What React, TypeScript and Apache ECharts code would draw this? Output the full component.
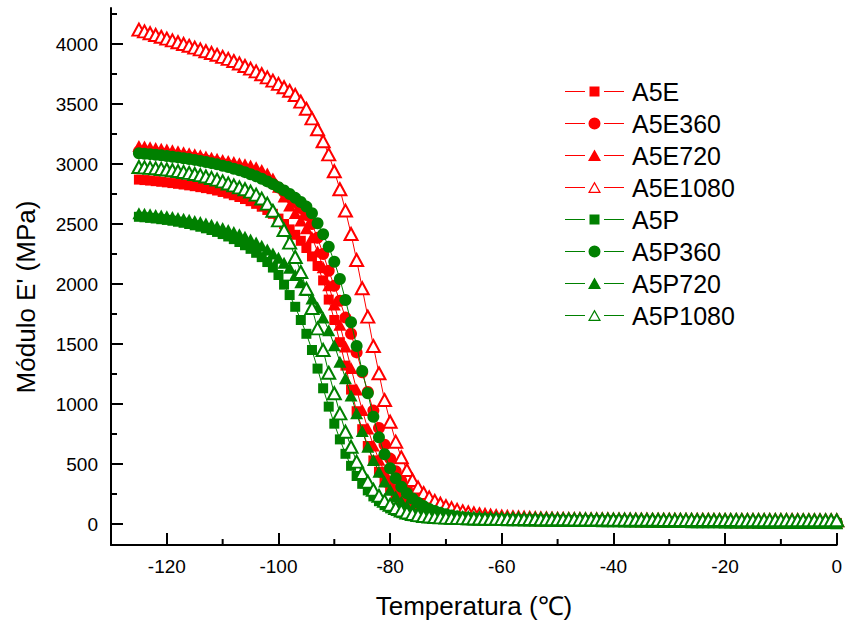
import { useEffect, useRef } from "react";
import * as echarts from "echarts";

// Temperature (°C) of each measured point
const TEMPS = [
  -125, -124, -123, -122, -121, -120, -119, -118, -117, -116, -115, -114, -113, -112, -111, -110, -109, -108, -107, -106, -105, -104, -103, -102, -101,
  -100, -99, -98, -97, -96, -95, -94, -93, -92, -91, -90, -89, -88, -87, -86, -85, -84, -83, -82, -81, -80, -79, -78, -77, -76,
  -75, -74, -73, -72, -71, -70, -69, -68, -67, -66, -65, -64, -63, -62, -61, -60, -59, -58, -57, -56, -55, -54, -53, -52, -51,
  -50, -49, -48, -47, -46, -45, -44, -43, -42, -41, -40, -39, -38, -37, -36, -35, -34, -33, -32, -31, -30, -29, -28, -27, -26,
  -25, -24, -23, -22, -21, -20, -19, -18, -17, -16, -15, -14, -13, -12, -11, -10, -9, -8, -7, -6, -5, -4, -3, -2, -1, 0,
];

// Storage modulus E' (MPa) per series
const A5E = [
  2870, 2866, 2862, 2857, 2852, 2847, 2841, 2835, 2829, 2822, 2815, 2807, 2799, 2790, 2779, 2767, 2754, 2740, 2725, 2708, 2690, 2668, 2644, 2617, 2585,
  2545, 2500, 2455, 2410, 2360, 2300, 2230, 2150, 2030, 1870, 1700, 1515, 1320, 1120, 940, 790, 650, 530, 435, 355, 288, 235, 192, 158, 131,
  110, 94, 82, 72, 64, 58, 53, 49, 46, 44, 42, 40, 39, 38, 37, 36, 35, 34, 33, 33, 32, 31, 31, 30, 30,
  29, 29, 28, 28, 27, 27, 26, 26, 25, 25, 24, 24, 23, 23, 22, 22, 21, 21, 20, 20, 19, 19, 18, 18, 17,
  17, 16, 16, 15, 15, 15, 14, 14, 14, 13, 13, 13, 12, 12, 12, 11, 11, 11, 11, 10, 10, 10, 10, 9, 9, 9,
];
const A5E360 = [
  3105, 3101, 3097, 3092, 3087, 3082, 3076, 3070, 3063, 3056, 3048, 3040, 3031, 3021, 3011, 3000, 2988, 2975, 2961, 2946, 2929, 2910, 2888, 2863, 2835,
  2803, 2767, 2727, 2682, 2632, 2575, 2500, 2385, 2250, 2110, 1985, 1860, 1720, 1585, 1430, 1265, 1100, 945, 800, 660, 545, 440, 360, 295, 243,
  200, 167, 140, 118, 101, 87, 76, 67, 60, 55, 51, 48, 45, 43, 41, 40, 39, 38, 37, 36, 35, 34, 33, 33, 32,
  31, 31, 30, 30, 29, 29, 28, 27, 27, 26, 26, 25, 25, 24, 24, 23, 23, 22, 22, 21, 21, 20, 20, 19, 19,
  19, 18, 18, 17, 17, 17, 16, 16, 16, 15, 15, 15, 14, 14, 14, 13, 13, 13, 13, 12, 12, 12, 12, 11, 11, 11,
];
const A5E720 = [
  3150, 3145, 3140, 3134, 3128, 3121, 3114, 3106, 3098, 3090, 3081, 3072, 3062, 3052, 3043, 3034, 3025, 3016, 3007, 2998, 2988, 2972, 2950, 2920, 2880,
  2810, 2730, 2655, 2592, 2530, 2465, 2390, 2270, 2140, 1990, 1830, 1660, 1480, 1300, 1120, 950, 795, 655, 535, 435, 355, 290, 238, 196, 162,
  135, 113, 96, 83, 72, 64, 58, 53, 49, 46, 44, 42, 40, 39, 38, 37, 36, 35, 34, 34, 33, 32, 32, 31, 31,
  30, 30, 29, 29, 28, 28, 27, 27, 26, 26, 25, 25, 24, 24, 23, 23, 22, 22, 21, 21, 20, 20, 19, 19, 18,
  18, 17, 17, 17, 16, 16, 16, 15, 15, 15, 14, 14, 14, 13, 13, 13, 12, 12, 12, 12, 11, 11, 11, 11, 10, 10,
];
const A5E1080 = [
  4120, 4105, 4090, 4075, 4060, 4045, 4030, 4015, 4000, 3985, 3970, 3955, 3940, 3925, 3910, 3893, 3876, 3858, 3838, 3817, 3795, 3772, 3748, 3722, 3695,
  3668, 3640, 3610, 3575, 3520, 3460, 3380, 3290, 3190, 3080, 2940, 2790, 2612, 2417, 2200, 1965, 1728, 1483, 1256, 1033, 852, 686, 556, 450, 367,
  305, 258, 222, 193, 169, 149, 132, 118, 106, 96, 88, 81, 75, 70, 66, 62, 59, 56, 54, 52, 50, 48, 47, 46, 45,
  43, 42, 41, 40, 40, 39, 39, 38, 38, 38, 37, 37, 37, 36, 36, 36, 36, 35, 35, 35, 35, 35, 34, 34, 34,
  34, 34, 34, 33, 33, 33, 33, 33, 33, 33, 32, 32, 32, 32, 32, 32, 32, 32, 32, 31, 31, 31, 31, 31, 31, 31,
];
const A5P = [
  2560, 2556, 2551, 2546, 2540, 2534, 2527, 2519, 2510, 2500, 2489, 2477, 2464, 2450, 2434, 2416, 2396, 2374, 2350, 2323, 2293, 2260, 2224, 2183, 2137,
  2075, 1995, 1908, 1810, 1700, 1585, 1450, 1295, 1131, 978, 836, 705, 585, 485, 400, 335, 280, 230, 190, 157, 130, 108, 90, 76, 65,
  57, 51, 47, 44, 42, 40, 39, 38, 37, 36, 35, 34, 33, 32, 32, 31, 30, 30, 29, 29, 28, 28, 27, 27, 26,
  26, 25, 25, 24, 24, 23, 23, 22, 22, 21, 21, 20, 20, 19, 19, 18, 18, 17, 17, 16, 16, 15, 15, 14, 14,
  14, 13, 13, 13, 12, 12, 12, 11, 11, 11, 10, 10, 10, 9, 9, 9, 8, 8, 8, 8, 7, 7, 7, 7, 6, 6,
];
const A5P360 = [
  3090, 3086, 3082, 3077, 3072, 3067, 3061, 3055, 3048, 3041, 3034, 3026, 3017, 3007, 2997, 2986, 2974, 2961, 2947, 2932, 2915, 2897, 2877, 2855, 2832,
  2807, 2780, 2750, 2718, 2683, 2645, 2590, 2506, 2414, 2311, 2186, 2042, 1867, 1681, 1483, 1275, 1089, 894, 722, 581, 464, 381, 311, 256, 212,
  177, 149, 126, 108, 93, 81, 71, 63, 57, 52, 48, 45, 43, 41, 39, 38, 37, 36, 35, 34, 33, 33, 32, 31, 31,
  30, 30, 29, 29, 28, 28, 27, 27, 26, 26, 25, 25, 24, 24, 23, 23, 22, 22, 21, 21, 20, 20, 19, 19, 18,
  18, 17, 17, 16, 16, 16, 15, 15, 15, 14, 14, 14, 13, 13, 13, 12, 12, 12, 12, 11, 11, 11, 10, 10, 10, 10,
];
const A5P720 = [
  2590, 2586, 2581, 2576, 2571, 2565, 2558, 2551, 2543, 2535, 2526, 2516, 2505, 2493, 2480, 2466, 2450, 2433, 2414, 2393, 2370, 2345, 2318, 2288, 2255,
  2218, 2178, 2135, 2075, 2015, 1950, 1880, 1805, 1720, 1615, 1490, 1353, 1215, 1070, 922, 775, 644, 533, 436, 355, 285, 230, 187, 152, 125,
  104, 88, 75, 65, 57, 51, 47, 44, 42, 40, 38, 37, 36, 35, 34, 33, 32, 32, 31, 30, 30, 29, 29, 28, 28,
  27, 27, 26, 26, 25, 25, 24, 24, 23, 23, 22, 22, 21, 21, 20, 20, 19, 19, 18, 18, 17, 17, 16, 16, 15,
  15, 15, 14, 14, 14, 13, 13, 13, 12, 12, 12, 11, 11, 11, 10, 10, 10, 9, 9, 9, 9, 8, 8, 8, 8, 7,
];
const A5P1080 = [
  2975, 2972, 2968, 2964, 2959, 2954, 2948, 2941, 2934, 2926, 2917, 2907, 2896, 2884, 2870, 2855, 2838, 2822, 2805, 2790, 2770, 2745, 2712, 2670, 2610,
  2530, 2450, 2345, 2225, 2100, 1960, 1800, 1630, 1450, 1260, 1090, 922, 769, 644, 520, 425, 353, 285, 235, 193, 160, 133, 112, 96, 84,
  74, 67, 62, 58, 55, 53, 51, 50, 49, 48, 47, 46, 45, 44, 44, 43, 43, 42, 42, 41, 41, 41, 40, 40, 40,
  39, 39, 39, 38, 38, 38, 37, 37, 37, 37, 36, 36, 36, 36, 35, 35, 35, 35, 35, 34, 34, 34, 34, 34, 34,
  33, 33, 33, 33, 33, 33, 33, 33, 32, 32, 32, 32, 32, 32, 32, 32, 32, 31, 31, 31, 31, 31, 31, 31, 31, 31,
];

const SERIES_NAMES = ["A5E", "A5E360", "A5E720", "A5E1080", "A5P", "A5P360", "A5P720", "A5P1080"];
const SERIES_VALUES = [A5E, A5E360, A5E720, A5E1080, A5P, A5P360, A5P720, A5P1080];

const X_MIN = -130;
const X_MAX = 0;
const Y_MIN = -175;
const Y_MAX = 4300;
const X_MAJOR = [-120, -100, -80, -60, -40, -20, 0];
const X_MINOR = [-110, -90, -70, -50, -30, -10];
const Y_MAJOR = [0, 500, 1000, 1500, 2000, 2500, 3000, 3500, 4000];
const Y_MINOR = [250, 750, 1250, 1750, 2250, 2750, 3250, 3750, 4250];

const X_TITLE = "Temperatura (\u2103)";
const Y_TITLE = "Módulo E' (MPa)";

const RED = "#ff0000";
const GREEN = "#008000";
const FONT = "'Liberation Sans', Arial, Helvetica, sans-serif";

// Legend icons: line — gap — marker — gap — line (box 59 x 12)
const ICON_LINES = "M0 0 L0 0 Z M59 12 L59 12 Z M0 5.5 L20 5.5 L20 6.5 L0 6.5 Z M39 5.5 L59 5.5 L59 6.5 L39 6.5 Z ";
const ICON_SQUARE = "path://" + ICON_LINES + "M24.5 1 L34.5 1 L34.5 11 L24.5 11 Z";
const ICON_CIRCLE = "path://" + ICON_LINES + "M35.5 6 A6 6 0 1 1 23.5 6 A6 6 0 1 1 35.5 6 Z";
const ICON_TRIANGLE = "path://" + ICON_LINES + "M29.5 0 L36 11.5 L23 11.5 Z";
const ICON_EMPTY_TRIANGLE =
  "path://" + ICON_LINES + "M29.5 0 L36 11.5 L23 11.5 Z M29.5 2.4 L25.1 10.3 L33.9 10.3 Z";

const STYLES = [
  { color: RED, symbol: "rect", size: 10, hollow: false, icon: ICON_SQUARE },
  { color: RED, symbol: "circle", size: 12, hollow: false, icon: ICON_CIRCLE },
  { color: RED, symbol: "triangle", size: [13, 12], hollow: false, icon: ICON_TRIANGLE },
  { color: RED, symbol: "emptyTriangle", size: [13, 12], hollow: true, icon: ICON_EMPTY_TRIANGLE },
  { color: GREEN, symbol: "rect", size: 10, hollow: false, icon: ICON_SQUARE },
  { color: GREEN, symbol: "circle", size: 12, hollow: false, icon: ICON_CIRCLE },
  { color: GREEN, symbol: "triangle", size: [13, 12], hollow: false, icon: ICON_TRIANGLE },
  { color: GREEN, symbol: "emptyTriangle", size: [13, 12], hollow: true, icon: ICON_EMPTY_TRIANGLE },
];

const TITLE_GRAPHICS = [
  {
    id: "xTitle",
    type: "text",
    x: 474,
    y: 606,
    silent: true,
    style: {
      text: X_TITLE,
      fontSize: 26,
      fontFamily: FONT,
      fill: "#000",
      align: "center",
      verticalAlign: "middle",
      textAlign: "center",
      textVerticalAlign: "middle",
    },
  },
  {
    id: "yTitle",
    type: "text",
    x: 26,
    y: 297,
    rotation: Math.PI / 2,
    silent: true,
    style: {
      text: Y_TITLE,
      fontSize: 26,
      fontFamily: FONT,
      fill: "#000",
      align: "center",
      verticalAlign: "middle",
      textAlign: "center",
      textVerticalAlign: "middle",
    },
  },
];

function buildOption() {
  const series = SERIES_NAMES.map((name, k) => {
    const st = STYLES[k];
    const vals = SERIES_VALUES[k];
    return {
      type: "line",
      name,
      data: TEMPS.map((t, i) => [t, vals[i]]),
      symbol: st.symbol,
      symbolSize: st.size,
      showSymbol: true,
      showAllSymbol: true,
      silent: true,
      emphasis: { disabled: true },
      lineStyle: { color: st.color, width: 1 },
      itemStyle: {
        color: st.color,
        borderColor: st.color,
        borderWidth: st.hollow ? 1 : 0,
      },
      z: 2 + k,
    };
  });

  const tickLine = { color: "#000", width: 2 };

  return {
    animation: false,
    backgroundColor: "#ffffff",
    grid: { left: 111, right: 8, top: 8, bottom: 80, containLabel: false },
    legend: {
      orient: "vertical",
      left: 560,
      top: 74,
      itemWidth: 59,
      itemHeight: 12,
      itemGap: 7,
      selectedMode: false,
      symbolKeepAspect: true,
      itemStyle: { borderWidth: 0 },
      data: SERIES_NAMES.map((name, k) => ({ name, icon: STYLES[k].icon })),
      textStyle: { fontSize: 25, lineHeight: 25, fontFamily: FONT, color: "#000", padding: [0, 0, 0, 3] },
    },
    xAxis: {
      type: "value",
      min: X_MIN,
      max: X_MAX,
      position: "bottom",
      axisLine: { show: true, onZero: false, lineStyle: { color: "#000", width: 2 } },
      axisTick: { show: true, inside: true, length: 12, customValues: X_MAJOR, lineStyle: tickLine },
      axisLabel: {
        show: true,
        customValues: X_MAJOR,
        margin: 12,
        color: "#000",
        fontSize: 19,
        fontFamily: FONT,
        formatter: (v: number) => String(v),
      },
      splitLine: { show: false },
    },
    yAxis: {
      type: "value",
      min: Y_MIN,
      max: Y_MAX,
      position: "left",
      axisLine: { show: true, onZero: false, lineStyle: { color: "#000", width: 2 } },
      axisTick: { show: true, inside: true, length: 12, customValues: Y_MAJOR, lineStyle: tickLine },
      axisLabel: {
        show: true,
        customValues: Y_MAJOR,
        margin: 13,
        color: "#000",
        fontSize: 19,
        fontFamily: FONT,
        formatter: (v: number) => String(v),
      },
      splitLine: { show: false },
    },
    graphic: TITLE_GRAPHICS,
    series,
  };
}

export default function App() {
  const ref = useRef<HTMLDivElement>(null);
  useEffect(() => {
    if (!ref.current) return;
    const chart = echarts.init(ref.current, null, { renderer: "svg" });
    chart.setOption(buildOption() as any);

    // Minor ticks, placed through the chart's own axis scales
    const origin = chart.convertToPixel({ gridIndex: 0 }, [X_MIN, Y_MIN]) as number[];
    const minorLen = 6;
    const tickStyle = { stroke: "#000", lineWidth: 2 };
    const minorX = X_MINOR.map((v, i) => {
      const px = chart.convertToPixel({ xAxisIndex: 0 }, v) as number;
      return {
        id: "mx" + i,
        type: "line",
        silent: true,
        shape: { x1: px, y1: origin[1], x2: px, y2: origin[1] - minorLen },
        style: tickStyle,
      };
    });
    const minorY = Y_MINOR.map((v, i) => {
      const py = chart.convertToPixel({ yAxisIndex: 0 }, v) as number;
      return {
        id: "my" + i,
        type: "line",
        silent: true,
        shape: { x1: origin[0], y1: py, x2: origin[0] + minorLen, y2: py },
        style: tickStyle,
      };
    });
    chart.setOption({ graphic: [...TITLE_GRAPHICS, ...minorX, ...minorY] } as any);

    return () => {
      chart.dispose();
    };
  }, []);
  return (
    <div
      ref={ref}
      style={{ position: "fixed", left: 0, top: 0, width: 845, height: 625, background: "#fff" }}
    />
  );
}
